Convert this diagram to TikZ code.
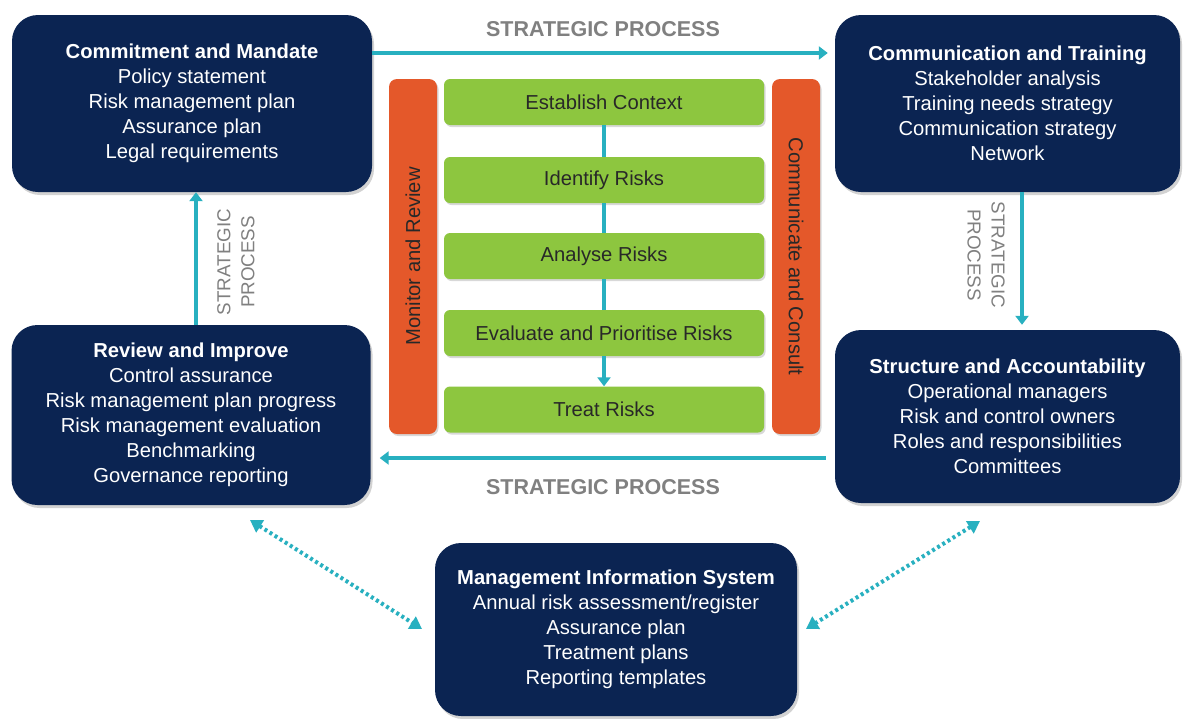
\documentclass[tikz,border=0pt]{standalone}
\usepackage{fontspec}
\setmainfont{Liberation Sans}
\usetikzlibrary{arrows.meta,shadows,positioning}
\definecolor{navy}{RGB}{11,36,82}
\definecolor{teal1}{RGB}{40,176,192}
\definecolor{orange1}{RGB}{228,88,42}
\definecolor{green1}{RGB}{141,198,63}
\definecolor{gray1}{RGB}{128,128,128}
\definecolor{dark1}{RGB}{40,40,40}
\tikzset{
  mainbox/.style={rectangle, rounded corners=26pt, fill=navy, text=white, align=center,
    inner sep=0pt, font=\fontsize{20.2}{25}\selectfont,
    drop shadow={opacity=0.35, shadow xshift=2pt, shadow yshift=-3pt}},
  stepbox/.style={rectangle, rounded corners=6pt, fill=green1, text=dark1, minimum width=320pt,
    minimum height=46pt, inner sep=0pt, font=\fontsize{20.2}{22}\selectfont,
    drop shadow={opacity=0.3, shadow xshift=1.5pt, shadow yshift=-2pt}},
  barbox/.style={rectangle, rounded corners=8pt, fill=orange1, text=dark1, minimum width=355pt,
    minimum height=48pt, inner sep=0pt, font=\fontsize{20.2}{22}\selectfont,
    drop shadow={opacity=0.3, shadow xshift=1.5pt, shadow yshift=-2pt}},
  flow/.style={draw=teal1, line width=4pt, -{Triangle[width=13pt,length=9pt]}},
  link/.style={draw=teal1, line width=4pt},
  dotlink/.style={draw=teal1, line width=4pt, dash pattern=on 3pt off 3pt,
    {Triangle[width=14pt,length=12pt]}-{Triangle[width=14pt,length=12pt]}},
  biglabel/.style={text=gray1, font=\bfseries\fontsize{21.5}{24}\selectfont},
  sidelabel/.style={text=gray1, align=center, font=\fontsize{18.8}{24}\selectfont}
}
\begin{document}
\begin{tikzpicture}[x=1pt,y=-1pt]
\useasboundingbox (0,0) rectangle (1192,718);
\fill[white] (0,0) rectangle (1192,718);

% main boxes
\node[mainbox, minimum width=360pt, minimum height=177pt] (cm) at (192,103.5)
  {\textbf{Commitment and Mandate}\\Policy statement\\Risk management plan\\Assurance plan\\Legal requirements};
\node[mainbox, minimum width=345pt, minimum height=177pt] (ct) at (1007.5,103.5)
  {\textbf{Communication and Training}\\Stakeholder analysis\\Training needs strategy\\Communication strategy\\Network};
\node[mainbox, minimum width=359pt, minimum height=180pt] (rv) at (191,415)
  {\textbf{Review and Improve}\\Control assurance\\Risk management plan progress\\Risk management evaluation\\Benchmarking\\Governance reporting};
\node[mainbox, minimum width=345pt, minimum height=173pt] (st) at (1007.5,416.5)
  {\textbf{Structure and Accountability}\\Operational managers\\Risk and control owners\\Roles and responsibilities\\Committees};
\node[mainbox, minimum width=362pt, minimum height=173pt] (mis) at (616,629.5)
  {\textbf{Management Information System}\\Annual risk assessment/register\\Assurance plan\\Treatment plans\\Reporting templates};

% orange bars
\node[barbox, rotate=90] (mr) at (413,256.5) {Monitor and Review};
\node[barbox, rotate=-90] (cc) at (796,256.5) {Communicate and Consult};

% green steps
\node[stepbox] (s1) at (604,102) {Establish Context};
\node[stepbox] (s2) at (604,180) {Identify Risks};
\node[stepbox] (s3) at (604,256) {Analyse Risks};
\node[stepbox] (s4) at (604,333) {Evaluate and Prioritise Risks};
\node[stepbox] (s5) at (604,409.5) {Treat Risks};

\draw[link] (s1.south) -- (s2.north);
\draw[link] (s2.south) -- (s3.north);
\draw[link] (s3.south) -- (s4.north);
\draw[flow] (s4.south) -- (s5.north);

% strategic process arrows
\draw[flow, shorten >=7pt] ([yshift=50.5pt]cm.east) -- ([yshift=50.5pt]ct.west);
\node[biglabel] (lt) at (603,29) {STRATEGIC PROCESS};

\draw[flow, shorten <=9pt, shorten >=9pt] ([yshift=-41.5pt]st.west) -- ([yshift=-43pt]rv.east);
\node[biglabel] (lb) at (603,487) {STRATEGIC PROCESS};

\coordinate (lv) at ([xshift=5pt]rv.north);
\draw[flow] (lv) -- (lv |- cm.south);
\node[sidelabel, rotate=90] (ll) at (236,262) {STRATEGIC\\PROCESS};

\coordinate (rvv) at ([xshift=14.5pt]ct.south);
\draw[flow, shorten >=5pt] (rvv) -- (rvv |- st.north);
\node[sidelabel, rotate=-90] (rl) at (986,255) {STRATEGIC\\PROCESS};

% dotted links
\coordinate (d1a) at (250,520);
\coordinate (d1b) at (422,629);
\coordinate (d2a) at (980,521);
\coordinate (d2b) at (806,629);
\draw[dotlink] (d1a) -- (d1b);
\draw[dotlink] (d2a) -- (d2b);
\end{tikzpicture}
\end{document}
